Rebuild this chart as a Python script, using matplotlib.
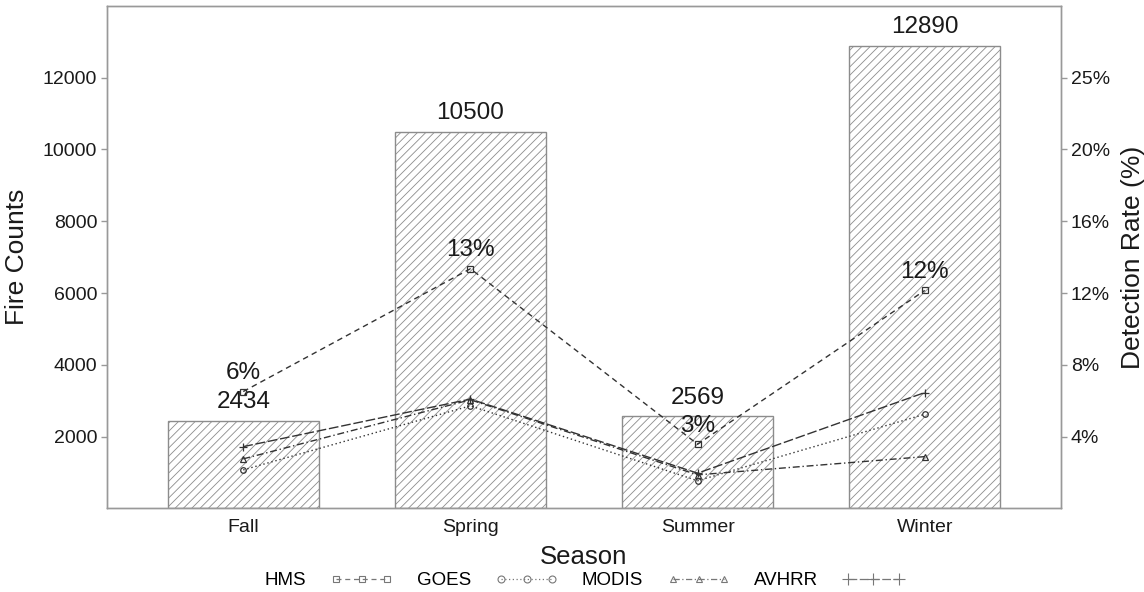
import numpy as np
import matplotlib
matplotlib.use('Agg')
from matplotlib import pyplot as plt
from matplotlib.ticker import FuncFormatter
from matplotlib.lines import Line2D

plt.rcParams['font.family'] = ['Liberation Sans', 'DejaVu Sans']
plt.rcParams['hatch.linewidth'] = 0.6

# seasonal fire counts and detection rates (%) per sensor
seasons = ['Fall', 'Spring', 'Summer', 'Winter']
fire_counts = [2434, 10500, 2569, 12890]

hms = [6.78, 13.91, 3.72, 12.65]
goes = [2.23, 5.95, 1.60, 5.46]
modis = [2.87, 6.30, 1.94, 3.00]
avhrr = [3.58, 6.34, 2.04, 6.72]

# counts per percent on the secondary axis
scale = 480.0
ymax = 14000

grey = '#999999'
ink = '#1a1a1a'
line_col = '#333333'

fig = plt.figure(figsize=(11.44, 5.92), dpi=100)
ax = fig.add_axes([0.0935, 0.1414, 0.834, 0.8485])

x = np.arange(len(seasons))
ax.bar(x, fire_counts, width=0.665, color='white', edgecolor='#8c8c8c',
       hatch='////', linewidth=1.0, zorder=1)

for xi, c in zip(x, fire_counts):
    ax.annotate(str(c), (xi, c), xytext=(0, 9), textcoords='offset points',
                ha='center', va='baseline', fontsize=17.5, color=ink)

ax.set_xlim(-0.6, 3.6)
ax.set_ylim(0, ymax)
ax.set_xticks(x)
ax.set_xticklabels(seasons)
ax.set_yticks(np.arange(2000, 12001, 2000))

ax2 = ax.twinx()
ax2.set_ylim(0, ymax / scale)
ax2.set_yticks(np.arange(2000, 12001, 2000) / scale)
ax2.yaxis.set_major_formatter(FuncFormatter(lambda v, _: f"{int(v + 1e-9)}%"))

series = [
    ('HMS', hms, 's', (0, (4, 3))),
    ('GOES', goes, 'o', (0, (1, 2))),
    ('MODIS', modis, '^', (0, (5, 2, 1, 2))),
    ('AVHRR', avhrr, '+', (0, (7, 2))),
]
handles = []
for name, vals, mk, ls in series:
    ax2.plot(x, vals, linestyle=ls, color=line_col, linewidth=1.0,
             marker=mk, markersize=4 if mk != '+' else 6,
             markerfacecolor='none', markeredgewidth=0.9)
    handles.append(Line2D([], [], linestyle=ls, color='#777777', linewidth=0.9,
                          marker=mk, markersize=5 if mk != '+' else 8,
                          markerfacecolor='none', markeredgewidth=0.8,
                          label=name))

for xi, v in zip(x, hms):
    ax2.annotate(f"{int(v)}%", (xi, v), xytext=(0, 9), textcoords='offset points',
                 ha='center', va='baseline', fontsize=17.5, color=ink)

for a in (ax, ax2):
    for s in a.spines.values():
        s.set_color(grey)
        s.set_linewidth(1.0)
ax.tick_params(axis='x', length=0, pad=8, labelsize=14, labelcolor=ink)
ax.tick_params(axis='y', length=4, width=1, color=grey, labelsize=14, labelcolor=ink, pad=3)
ax2.tick_params(axis='y', length=4, width=1, color=grey, labelsize=14, labelcolor=ink, pad=3)

ax.set_ylabel('Fire Counts', fontsize=19, color=ink, labelpad=10)
ax2.set_ylabel('Detection Rate (%)', fontsize=19, color=ink, labelpad=8)
ax.set_xlabel('Season', fontsize=18.5, color=ink, labelpad=6)

fig.legend(handles=handles, loc='center', bbox_to_anchor=(0.511, 0.019),
           ncol=4, frameon=False, markerfirst=False, numpoints=3,
           handlelength=3.3, handletextpad=1.3, columnspacing=1.3,
           fontsize=13.5)

plt.savefig('out.png', dpi=100)
